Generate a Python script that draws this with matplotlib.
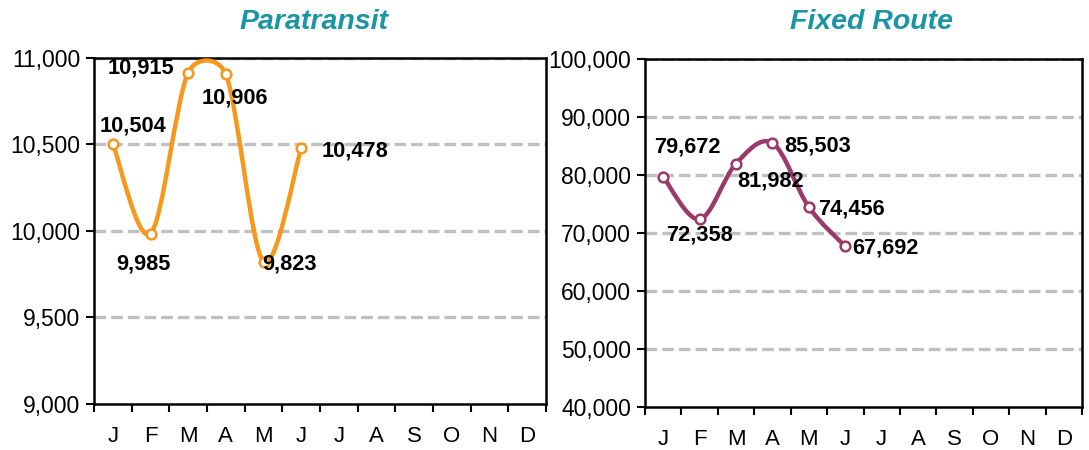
import numpy as np
import matplotlib

matplotlib.use("Agg")
import matplotlib.pyplot as plt
from matplotlib.path import Path
from matplotlib.patches import PathPatch
from matplotlib.ticker import FuncFormatter, FixedLocator

plt.rcParams['font.family'] = ['Liberation Sans', 'DejaVu Sans']

months = ['J', 'F', 'M', 'A', 'M', 'J', 'J', 'A', 'S', 'O', 'N', 'D']

para_values = [10504, 9985, 10915, 10906, 9823, 10478]
fixed_values = [79672, 72358, 81982, 85503, 74456, 67692]

# label offsets in pixels (dx, dy up)
para_offsets = [(20, 18), (-7, -30), (-47, 5), (9, -24), (26, -2), (54, -3)]
fixed_offsets = [(24, 30), (0, -16), (35, -17), (45, -3), (43, -2), (40, -2)]

ORANGE = '#F7981D'
PURPLE = '#9B3A6A'
TEAL = '#1A95A6'
GRID = '#C0C0C0'

W, H = 1089, 450
fig = plt.figure(figsize=(W / 100, H / 100), dpi=100)


def px_rect(x0, y0, x1, y1):
    return [x0 / W, 1 - y1 / H, (x1 - x0) / W, (y1 - y0) / H]


def smooth_path(ax, xs, ys):
    # Excel-like smoothed line: Catmull-Rom bezier with clamped arms (in pixel space)
    pts = ax.transData.transform(np.column_stack([xs, ys]))
    n = len(pts)
    verts = [pts[0]]
    codes = [Path.MOVETO]
    for i in range(n - 1):
        p0 = pts[max(i - 1, 0)]
        p1 = pts[i]
        p2 = pts[i + 1]
        p3 = pts[min(i + 2, n - 1)]
        seg = np.linalg.norm(p2 - p1)
        a1 = (p2 - p0) / 6
        a2 = (p3 - p1) / 6
        lim = seg * 0.5
        if np.linalg.norm(a1) > lim:
            a1 = a1 / np.linalg.norm(a1) * lim
        if np.linalg.norm(a2) > lim:
            a2 = a2 / np.linalg.norm(a2) * lim
        verts += [p1 + a1, p2 - a2, p2]
        codes += [Path.CURVE4] * 3
    verts = ax.transData.inverted().transform(np.array(verts))
    return Path(verts, codes)


def draw_panel(rect, title, title_x, values, offsets, color, ylim, yticks):
    ax = fig.add_axes(rect)
    ax.set_xlim(0, 12)
    ax.set_ylim(*ylim)
    ax.set_yticks(yticks)
    ax.yaxis.set_major_formatter(FuncFormatter(lambda v, p: f"{int(v):,}"))
    ax.tick_params(axis='y', labelsize=16.5, length=6, width=1.5, pad=4, direction='out')

    ax.xaxis.set_major_locator(FixedLocator(np.arange(0, 13)))
    ax.xaxis.set_minor_locator(FixedLocator(np.arange(12) + 0.5))
    ax.set_xticklabels([], minor=False)
    ax.set_xticklabels(months, minor=True)
    ax.tick_params(axis='x', which='major', length=6, width=1.5, direction='out')
    ax.tick_params(axis='x', which='minor', length=0, labelsize=16, pad=16)

    for s in ax.spines.values():
        s.set_linewidth(1.8)
        s.set_color('black')

    for yv in yticks[1:]:
        ax.axhline(yv, color=GRID, lw=2.4, ls=(0, (3.5, 1.5)), zorder=1)

    xs = np.arange(len(values)) + 0.5
    fig.canvas.draw()
    ax.add_patch(PathPatch(smooth_path(ax, xs, values), fc='none', ec=color, lw=3.2, zorder=3,
                           capstyle='round'))
    ax.plot(xs, values, 'o', ms=7, mfc='white', mec=color, mew=1.8, zorder=4)

    for x, v, (dx, dy) in zip(xs, values, offsets):
        ax.annotate(f"{v:,}", (x, v), xytext=(dx * 0.72, dy * 0.72), textcoords='offset points',
                    ha='center', va='center', fontsize=15.7, fontweight='bold', zorder=5)

    fig.text(title_x / W, 1 - 22 / H, title, ha='center', va='center', fontsize=20.5,
             fontweight='bold', style='italic', color=TEAL)
    return ax


draw_panel(px_rect(94, 58, 546, 404), 'Paratransit', 314, para_values, para_offsets, ORANGE,
           (9000, 11000), [9000, 9500, 10000, 10500, 11000])
draw_panel(px_rect(645, 59, 1082, 407), 'Fixed Route', 872, fixed_values, fixed_offsets, PURPLE,
           (40000, 100000), [40000, 50000, 60000, 70000, 80000, 90000, 100000])

fig.savefig('out.png', dpi=100)
